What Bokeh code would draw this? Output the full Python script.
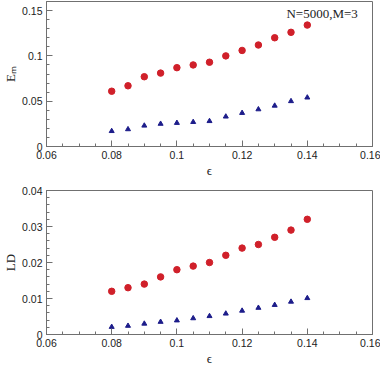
from bokeh.plotting import figure
from bokeh.layouts import column
from bokeh.models import FixedTicker, Label, Range1d
from bokeh.embed import file_html
from bokeh.resources import INLINE

eps = [0.080, 0.085, 0.090, 0.095, 0.100, 0.105, 0.110, 0.115, 0.120, 0.125, 0.130, 0.135, 0.140]
em_red = [0.061, 0.067, 0.077, 0.081, 0.087, 0.090, 0.093, 0.100, 0.106, 0.112, 0.120, 0.126, 0.134]
em_blue = [0.017, 0.019, 0.023, 0.025, 0.026, 0.027, 0.028, 0.033, 0.037, 0.041, 0.045, 0.050, 0.054]
ld_red = [0.012, 0.013, 0.014, 0.016, 0.018, 0.019, 0.020, 0.022, 0.024, 0.025, 0.027, 0.029, 0.032]
ld_blue = [0.0021, 0.0024, 0.0030, 0.0035, 0.0039, 0.0045, 0.0051, 0.0058, 0.0066, 0.0074, 0.0082, 0.0091, 0.0101]

x_ticks = [0.06, 0.08, 0.10, 0.12, 0.14, 0.16]
x_labels = ["0.06", "0.08", "0.1", "0.12", "0.14", "0.16"]
y1_ticks = [0, 0.05, 0.10, 0.15]
y1_labels = ["0", "0.05", "0.1", "0.15"]
y2_ticks = [0, 0.01, 0.02, 0.03, 0.04]
y2_labels = ["0", "0.01", "0.02", "0.03", "0.04"]

RED = "#d0202a"
BLUE = "#1c1c8a"
FRAME = "#707070"
SANS = "Liberation Sans"
SERIF = "Liberation Serif"


def style(p, yticks, ylabels, yminor, ylabel):
    p.xgrid.visible = False
    p.ygrid.visible = False
    p.outline_line_color = FRAME
    p.outline_line_width = 1
    p.xaxis.ticker = FixedTicker(ticks=x_ticks, minor_ticks=[0.06 + 0.005 * i for i in range(21)])
    p.xaxis.major_label_overrides = {t: l for t, l in zip(x_ticks, x_labels)}
    p.yaxis.ticker = FixedTicker(ticks=yticks, minor_ticks=yminor)
    p.yaxis.major_label_overrides = {t: l for t, l in zip(yticks, ylabels)}
    for ax in (p.xaxis[0], p.yaxis[0]):
        ax.axis_line_color = FRAME
        ax.major_tick_line_color = FRAME
        ax.minor_tick_line_color = FRAME
        ax.major_tick_in = 6
        ax.major_tick_out = 0
        ax.minor_tick_in = 3
        ax.minor_tick_out = 0
        ax.major_label_text_font = SANS
        ax.major_label_text_font_size = "10.5px"
        ax.major_label_text_color = "#222222"
        ax.axis_label_text_font = SERIF
        ax.axis_label_text_font_size = "13px"
        ax.axis_label_text_font_style = "normal"
        ax.axis_label_text_color = "#222222"
    p.xaxis.major_label_standoff = 4
    p.yaxis.major_label_standoff = 4
    p.xaxis.axis_label = "ϵ"
    p.xaxis.axis_label_standoff = 1
    p.yaxis.axis_label = ylabel
    p.yaxis.axis_label_standoff = 1


p1 = figure(frame_width=326, frame_height=145, output_backend="svg", toolbar_location=None,
            x_range=Range1d(0.06, 0.16), y_range=Range1d(0, 0.16),
            min_border_left=34, min_border_right=8, min_border_top=1, min_border_bottom=10)
style(p1, y1_ticks, y1_labels, [0.01 * i for i in range(17)], "Eₘ")
p1.scatter(eps, em_red, marker="circle", size=6.5, fill_color=RED, line_color=RED)
p1.scatter(eps, em_blue, marker="triangle", size=5, fill_color=BLUE, line_color=BLUE)
p1.add_layout(Label(x=0.1555, y=0.147, text="N=5000,M=3", text_font=SERIF,
                    text_font_size="13px", text_align="right", text_baseline="middle",
                    text_color="#222222"))

p2 = figure(frame_width=326, frame_height=144, output_backend="svg", toolbar_location=None,
            x_range=Range1d(0.06, 0.16), y_range=Range1d(0, 0.04),
            min_border_left=34, min_border_right=8, min_border_top=10, min_border_bottom=10)
style(p2, y2_ticks, y2_labels, [0.002 * i for i in range(21)], "LD")
p2.scatter(eps, ld_red, marker="circle", size=6.5, fill_color=RED, line_color=RED)
p2.scatter(eps, ld_blue, marker="triangle", size=5, fill_color=BLUE, line_color=BLUE)

layout = column(p1, p2, spacing=0)
open("out.html", "w").write(file_html(layout, INLINE))
